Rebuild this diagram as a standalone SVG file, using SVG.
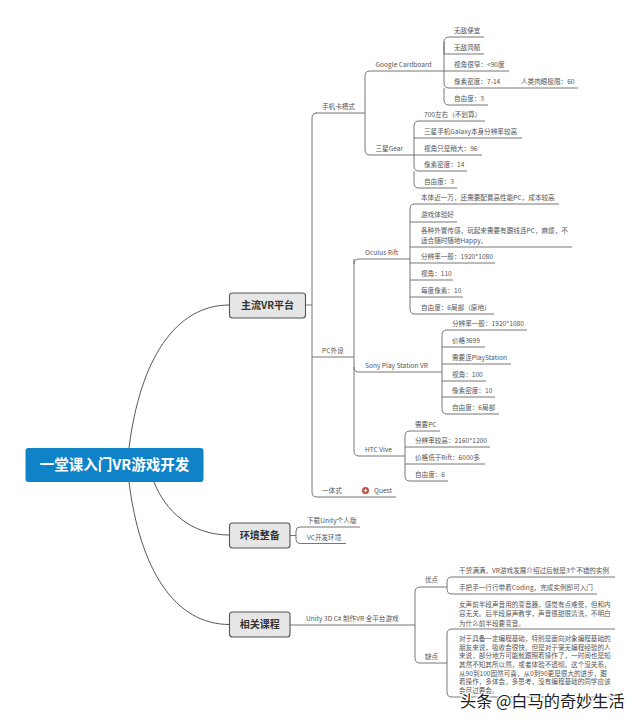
<svg xmlns="http://www.w3.org/2000/svg" width="640" height="723" viewBox="0 0 640 723">
<style>
text{font-family:"Noto Sans CJK SC","Noto Sans",sans-serif}
.t{font-size:6.6px;fill:#555}
.c{fill:none;stroke:#666;stroke-width:.9}
.m{fill:none;stroke:#444;stroke-width:.9}
.n{fill:#e6e6e6;stroke:#555;stroke-width:1.1}
.h{font-size:10px;font-weight:700;fill:#333;text-anchor:middle}
.w{font-size:16.200px;fill:#222;stroke:#fff;stroke-width:2.500px;paint-order:stroke}
</style>
<rect width="640" height="723" fill="#fff"/>
<g id="connectors">
<path class="m" d="M129 448C140 360 175 305 229.500 305M154 482C165 510 190 535 229.500 535M129 482C140 570 175 624.500 229.500 624.500"/>
<path class="c" d="M305.500 305H312M316 113H365M312 118V492Q312 497 317 497H396M312 118Q312 113 317 113M312 357H354"/>
<path class="c" d="M365 113V76Q365 71 370 71H444M365 113V150Q365 155 370 155H414"/>
<path class="c" d="M444 71V42Q444 37 449 37H484M444 54H484M444 71H509M444 71V83Q444 88 449 88H578M444 88V100Q444 105 449 105H488M444 42V54"/>
<path class="c" d="M414 155V126Q414 121 419 121H485M414 138H522M414 155H482M414 155V166Q414 171 419 171H467M414 171V183Q414 188 419 188H457"/>
<path class="c" d="M354 259V264M354 264Q354 259 359 259H410M354 264V451Q354 456 359 456H405M354 367Q354 372 359 372H442"/>
<path class="c" d="M410 259V209Q410 204 415 204H559M410 222H457M410 247H572M410 263H495M410 259V309Q410 314 415 314H494M410 280H453M410 297H463"/>
<path class="c" d="M442 372V335Q442 330 447 330H527M442 347H485M442 364H511M442 372V409Q442 414 447 414H499M442 381H486M442 397H495"/>
<path class="c" d="M405 456V436Q405 431 410 431H440M405 447H490M405 456V476Q405 481 410 481H448M405 464H485"/>
<path class="c" d="M290 535.500H296M296 535.500V531Q296 527 300 527H360M296 535.500V539.500Q296 543.500 300 543.500H346"/>
<path class="c" d="M290 625H415M415 625V592Q415 587 420 587H447M415 625V658Q415 663 420 663H447"/>
<path class="c" d="M447 587V582Q447 577 452 577H615M447 587V589Q447 594 452 594H597M447 663V634Q447 629 452 629H615M447 663V692Q447 697 452 697H615"/>
</g>
<g id="root"><rect x="25.500" y="448" width="178" height="34" rx="3" fill="#0f82c8"/><text x="114.500" y="470" font-size="14.500" font-weight="700" fill="#fff" text-anchor="middle">一堂课入门VR游戏开发</text></g>
<g id="main"><rect class="n" x="229.500" y="293" width="76" height="25" rx="3"/><text class="h" x="267.500" y="309">主流VR平台</text></g>
<g id="env"><rect class="n" x="229.500" y="523" width="60.500" height="25" rx="3"/><text class="h" x="259.700" y="539">环境整备</text></g>
<g id="course"><rect class="n" x="229.500" y="612" width="60.500" height="25" rx="3"/><text class="h" x="259.700" y="628">相关课程</text></g>
<g id="labels">
<text class="t" x="322" y="109">手机卡槽式</text>
<text class="t" x="375.500" y="67">Google Cardboard</text>
<text class="t" x="454" y="33">无敌便宜</text>
<text class="t" x="454" y="50">无敌简陋</text>
<text class="t" x="454" y="67">视角很窄：&lt;90度</text>
<text class="t" x="454" y="84">像素密度：7-14</text>
<text class="t" x="521" y="84">人类肉眼极限：60</text>
<text class="t" x="454" y="100.500">自由度：3</text>
<text class="t" x="375.500" y="151">三星Gear</text>
<text class="t" x="424" y="117">700左右（不划算）</text>
<text class="t" x="424" y="134">三星手机Galaxy本身分辨率较高</text>
<text class="t" x="424" y="151">视角只是稍大：96</text>
<text class="t" x="424" y="167">像素密度：14</text>
<text class="t" x="424" y="184">自由度：3</text>
<text class="t" x="322" y="353">PC外设</text>
<text class="t" x="365" y="255">Oculus Rift</text>
<text class="t" x="421" y="200">本体近一万，还需要配置高性能PC，成本较高</text>
<text class="t" x="421" y="217">游戏体验好</text>
<text class="t" x="421" y="233">各种外置传感，玩起来需要有跟线连PC，麻烦，不</text>
<text class="t" x="421" y="243">适合随时随地Happy。</text>
<text class="t" x="421" y="259">分辨率一般：1920*1080</text>
<text class="t" x="421" y="276">视角：110</text>
<text class="t" x="421" y="293">每度像素：10</text>
<text class="t" x="421" y="310">自由度：6局部（原地）</text>
<text class="t" x="365" y="368">Sony Play Station VR</text>
<text class="t" x="452" y="326">分辨率一般：1920*1080</text>
<text class="t" x="452" y="343">价格3699</text>
<text class="t" x="452" y="360">需要连PlayStation</text>
<text class="t" x="452" y="376.500">视角：100</text>
<text class="t" x="452" y="393">像素密度：10</text>
<text class="t" x="452" y="410">自由度：6局部</text>
<text class="t" x="365" y="452">HTC Vive</text>
<text class="t" x="415" y="426.500">需要PC</text>
<text class="t" x="415" y="443">分辨率较高：2160*1200</text>
<text class="t" x="415" y="460">价格低于Rift：6000多</text>
<text class="t" x="415" y="477">自由度：6</text>
<text class="t" x="322" y="493">一体式</text>
<text class="t" x="374" y="493">Quest</text>
<text class="t" x="307" y="523">下载Unity个人版</text>
<text class="t" x="307" y="539.500">VC开发环境</text>
<text class="t" x="306" y="621">Unity 3D C# 制作VR 全平台游戏</text>
<text class="t" x="425" y="582">优点</text>
<text class="t" x="425" y="658.500">缺点</text>
<text class="t" x="459" y="573">干货满满，VR游戏发展介绍过后就是3个不错的实例</text>
<text class="t" x="459" y="590">手把手一行行带着Coding，完成实例即可入门</text>
<text class="t" x="459" y="607">女声前半段声音用的变音器，感觉有点难受，但和内</text>
<text class="t" x="459" y="616">容无关。后半段原声教学，声音很甜很清洗，不明白</text>
<text class="t" x="459" y="625.500">为什么前半段要变音。</text>
<text class="t" x="459" y="641">对于具备一定编程基础，特别是面向对象编程基础的</text>
<text class="t" x="459" y="649.500">朋友来说，吸收会很快。但是对于毫无编程经验的人</text>
<text class="t" x="459" y="658">来说，部分地方可能就跟照着操作了，一时间也是知</text>
<text class="t" x="459" y="667">其然不知其所以然，或者体验不透彻。这个没关系，</text>
<text class="t" x="459" y="675.500">从90到100固然可喜，从0到90更是很大的进步，跟</text>
<text class="t" x="459" y="684">着操作，多体会，多思考，没有编程基础的同学应该</text>
<text class="t" x="459" y="693">会尽过要会。</text>
</g>
<g id="quest-icon"><circle cx="365.500" cy="490.500" r="3.500" fill="#c8473c"/><path d="M363.800 490.500h3.400M365.500 488.800v3.400" stroke="#fff" stroke-width="1.200"/></g>
<text id="watermark" class="w" x="460" y="707">头条 @白马的奇妙生活</text>
</svg>
